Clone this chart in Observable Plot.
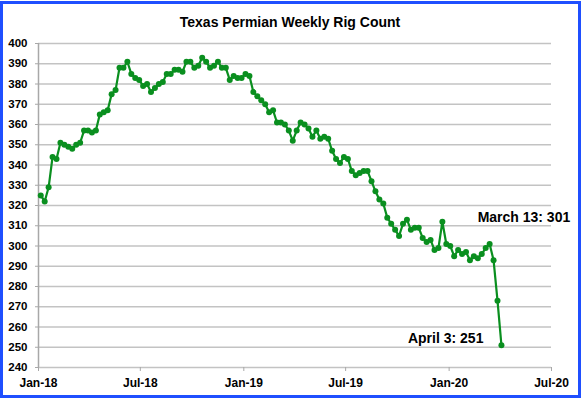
<!DOCTYPE html>
<html><head><meta charset="utf-8">
<script src="https://cdn.jsdelivr.net/npm/d3@7"></script>
<script src="https://cdn.jsdelivr.net/npm/@observablehq/plot@0.6"></script>
<style>
html,body{margin:0;padding:0;background:#fff;}
#wrap{position:relative;width:582px;height:398px;overflow:hidden;font-family:"Liberation Sans",Arial,sans-serif;}
#chart{position:absolute;left:0;top:0;}
#border{position:absolute;left:0;top:1px;width:575px;height:391px;border:3px solid #1f4fff;pointer-events:none;}
#title{position:absolute;left:0;width:580px;top:14px;text-align:center;font-weight:bold;font-size:14px;line-height:16px;color:#000;}
</style></head><body>
<div id="wrap"><div id="chart"></div><div id="title">Texas Permian Weekly Rig Count</div><div id="border"></div></div>
<script>
// first weekly observation (Fridays)
const firstWeek = "2018-01-05";
// weekly Texas Permian rig count, Jan 5 2018 .. Apr 3 2020
const rigCount = [
  325, 322, 329, 344, 343, 351, 350, 349, 348, 350, 351, 357, 357, 356, 357,
  365, 366, 367, 375, 377, 388, 388, 391, 385, 383, 382, 379, 380, 376, 378, 380, 381, 385,
  385, 387, 387, 386, 391, 391, 388, 389, 393, 391, 388, 389, 391, 388, 388, 382, 384, 383, 383, 385, 384,
  376, 374, 372, 370, 366, 367, 361, 361, 360, 357, 352, 357, 361, 360, 358, 354, 357, 353, 354, 353, 347, 343, 341, 344,
  343, 337, 335, 336, 337, 337, 332, 327, 323, 321, 314, 311, 308, 305, 311, 313, 308, 309, 309, 304, 302, 303, 298, 299,
  312, 301, 300, 295, 298, 296, 297, 293, 295, 294, 296, 299, 301, 293, 273, 251
];
const yTicks = [240, 250, 260, 270, 280, 290, 300, 310, 320, 330, 340, 350, 360, 370, 380, 390, 400];
const xTickDates = ["2018-01-01", "2018-07-01", "2019-01-01", "2019-07-01", "2020-01-01", "2020-07-01"];
const xTickLabels = ["Jan-18", "Jul-18", "Jan-19", "Jul-19", "Jan-20", "Jul-20"];
const noteDates = ["2020-03-13", "2020-04-03"];
const noteValues = [301, 251];
const noteLabels = ["March 13: 301", "April 3: 251"];

const start = new Date(firstWeek + "T00:00:00Z");
const data = rigCount.map((v, i) => ({date: d3.utcDay.offset(start, 7 * i), value: v}));
const xTicks = xTickDates.map(d => new Date(d + "T00:00:00Z"));
const labelOf = new Map(xTicks.map((d, i) => [+d, xTickLabels[i]]));
const notes = noteDates.map((d, i) => ({date: new Date(d + "T00:00:00Z"), value: noteValues[i], label: noteLabels[i]}));

const green = "#0a8f1f";
const grid = "#c3c3c3";

const chart = Plot.plot({
  width: 582,
  height: 398,
  marginLeft: 38,
  marginRight: 31,
  marginTop: 43,
  marginBottom: 31,
  style: {fontFamily: "'Liberation Sans', Arial, sans-serif", fontWeight: "bold", fontSize: "11px", color: "#000", background: "transparent"},
  x: {type: "utc", domain: [xTicks[0], xTicks[xTicks.length - 1]]},
  y: {domain: [240, 400]},
  marks: [
    Plot.ruleY(yTicks, {stroke: grid, strokeWidth: 1.5}),
    Plot.ruleX([xTicks[0]], {stroke: "#a8a8a8", strokeWidth: 1.5}),
    Plot.axisY({ticks: yTicks, tickSize: 3, tickPadding: 8, stroke: "#a8a8a8", fill: "#000", fontSize: 11.5, label: null}),
    Plot.axisX({ticks: xTicks, tickFormat: d => labelOf.get(+d), tickSize: 4, tickPadding: 7, stroke: "#a8a8a8", fill: "#000", fontSize: 12, label: null}),
    Plot.line(data, {x: "date", y: "value", stroke: green, strokeWidth: 2.2}),
    Plot.dot(data, {x: "date", y: "value", fill: green, r: 3}),
    Plot.text(notes.slice(0, 1), {x: "date", y: "value", text: "label", textAnchor: "start", dx: -12, dy: -26, fontSize: 14, fill: "#000"}),
    Plot.text(notes.slice(1), {x: "date", y: "value", text: "label", textAnchor: "end", dx: -18, dy: -7, fontSize: 14, fill: "#000"})
  ]
});
document.getElementById("chart").appendChild(chart);
</script>
</body></html>
